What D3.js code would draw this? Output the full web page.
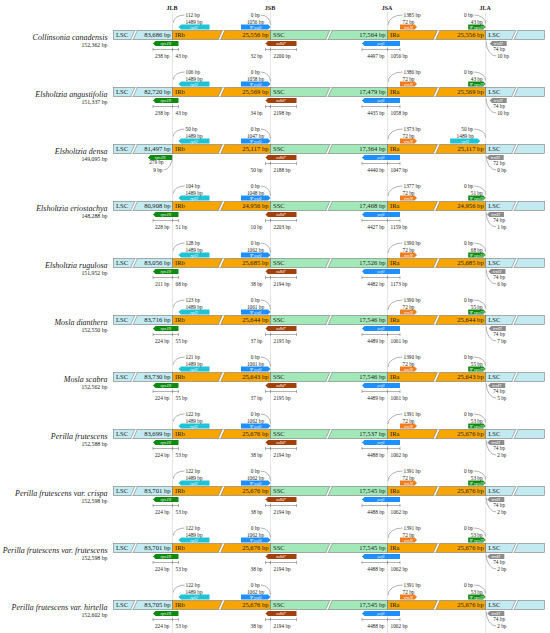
<!DOCTYPE html>
<html><head><meta charset="utf-8">
<script src="https://cdn.jsdelivr.net/npm/d3@7"></script>
<style>body{margin:0;background:#fff}svg{display:block}</style>
</head><body><svg id="c" width="550" height="633"></svg>
<script>
// ---------------- data ----------------
const species = ["Collinsonia canadensis","Elsholtzia angustifolia","Elsholtzia densa","Elsholtzia eriostachya","Elsholtzia rugulosa","Mosla dianthera","Mosla scabra","Perilla frutescens","Perilla frutescens var. crispa","Perilla frutescens var. frutescens","Perilla frutescens var. hirtella"];
const genomeSize = [152362,151337,149095,148288,151952,152550,152562,152588,152598,152598,152602];
const junctions = ["JLB","JSB","JSA","JLA"];
const lsc = [83686,82720,81497,80908,83056,83716,83730,83699,83701,83701,83705];
const irb = [25556,25569,25117,24956,25685,25644,25643,25676,25676,25676,25676];
const ssc = [17564,17479,17364,17468,17526,17546,17546,17537,17545,17545,17545];
const ira = [25556,25569,25117,24956,25685,25644,25643,25676,25676,25676,25676];
// JLB
const rpl2Gap = [112,106,50,104,128,123,121,122,122,122,122];
const rpl2Len = [1489,1489,1489,1489,1489,1489,1489,1489,1489,1489,1489];
const rps19Lsc = [238,238,279,228,211,224,224,224,224,224,224];
const rps19Ir = [43,43,null,51,68,55,55,53,53,53,53];
const rps19Gap = [null,null,9,null,null,null,null,null,null,null,null];
// JSB
const psiYcf1Gap = [0,0,0,0,0,0,0,0,0,0,0];
const psiYcf1Len = [1056,1058,1047,1048,1062,1061,1061,1062,1062,1062,1062];
const ndhFIr = [32,34,50,10,38,37,37,38,38,38,38];
const ndhFSsc = [2200,2198,2188,2203,2194,2195,2195,2194,2194,2194,2194];
// JSA
const trnNGap = [1385,1386,1373,1377,1390,1390,1390,1391,1391,1391,1391];
const trnNLen = [72,72,72,72,72,72,72,72,72,72,72];
const ycf1Ssc = [4497,4435,4440,4427,4482,4489,4489,4488,4488,4488,4488];
const ycf1Ir = [1056,1058,1047,1159,1173,1061,1061,1062,1062,1062,1062];
// JLA
const jlaGene = ["Ψ rps19","Ψ rps19","rpl2","Ψ rps19","Ψ rps19","Ψ rps19","Ψ rps19","Ψ rps19","Ψ rps19","Ψ rps19","Ψ rps19"];
const jlaGap = [0,0,50,0,0,0,0,0,0,0,0];
const jlaLen = [43,43,1489,51,68,55,55,53,53,53,53];
const trnHLen = [74,74,72,74,74,74,74,74,74,74,74];
const trnHGap = [10,10,0,1,6,7,5,2,2,2,2];

// ---------------- style / layout ----------------
const C = {lsc:"#c2eaf0", ir:"#f7a500", ssc:"#a2e8b9", border:"#7a7a7a",
  rpl2:"#1fc3d3", ycf1:"#1e8fff", rps19:"#0f8a10", ndhF:"#a1420c", trnN:"#f07c1c", trnH:"#8c8c8c",
  text:"#222", line:"#666", vline:"#d2d2d2"};
const font = "'Liberation Serif','DejaVu Serif','Times New Roman',serif";
const BH = 9;
const fmt = d3.format(",");

const svg = d3.select("#c").attr("font-family", font);
const xJ = d3.scaleLinear().domain([0,1,2,3,4,5]).range([113.5,172.5,270.5,387.5,485.7,544.3]);
const y = d3.scaleBand().domain(species).range([12.5, 12.5 + 57*species.length]);
const trnHOff = d3.scaleLinear().domain([0,10]).range([1,4]).clamp(true);

// header + junction lines
svg.selectAll("line.vj").data(junctions).join("line")
  .attr("x1",(d,k)=>xJ(k+1)).attr("x2",(d,k)=>xJ(k+1)).attr("y1",12).attr("y2",633)
  .attr("stroke",C.vline).attr("stroke-width",0.6);
svg.selectAll("text.hj").data(junctions).join("text")
  .attr("x",(d,k)=>xJ(k+1)-0.5).attr("y",10).attr("text-anchor","middle")
  .attr("font-size",6).attr("font-weight","bold").attr("fill",C.text).text(d=>d);

function arrow(g,x0,x1,yt,h,dir,fill,label){
  const p=2.5, ym=yt+h/2, yb=yt+h;
  const d = dir==="L"
    ? `M${x0},${ym}L${x0+p},${yt}L${x1},${yt}L${x1},${yb}L${x0+p},${yb}Z`
    : `M${x0},${yt}L${x1-p},${yt}L${x1},${ym}L${x1-p},${yb}L${x0},${yb}Z`;
  g.append("path").attr("d",d).attr("fill",fill);
  g.append("text").attr("x",(x0+x1)/2).attr("y",ym+1.6).attr("text-anchor","middle")
    .attr("font-size",4.6).attr("font-style","italic").attr("fill","#fff").text(label);
}
function lbl(g,x,yy,t,anchor){
  g.append("text").attr("x",x).attr("y",yy).attr("text-anchor",anchor||"middle")
    .attr("font-size",5.3).attr("fill",C.text).text(t);
}
function arc(g,d){ g.append("path").attr("d",d).attr("fill","none").attr("stroke",C.line).attr("stroke-width",0.5); }
function bracket(g,x0,xm,x1,yy){
  arc(g,`M${x0},${yy}H${x1}`);
  [x0,xm,x1].forEach(x=>arc(g,`M${x},${yy-1.6}V${yy+1.6}`));
}

const rows = svg.selectAll("g.row").data(d3.range(species.length)).join("g")
  .attr("class","row").attr("transform",i=>`translate(0,${y(species[i])+18})`);

rows.each(function(i){
  const g = d3.select(this);
  // species label
  g.append("text").attr("x",107.5).attr("y",9).attr("text-anchor","end")
    .attr("font-size",8).attr("font-style","italic").attr("fill",C.text).text(species[i]);
  g.append("text").attr("x",107.5).attr("y",16.3).attr("text-anchor","end")
    .attr("font-size",5.8).attr("fill",C.text).text(fmt(genomeSize[i])+" bp");

  // bar segments
  const segs = [
    {n:"LSC",len:lsc[i],a:0,b:1,fill:C.lsc,sx:xJ(0)+20.5},
    {n:"IRb",len:irb[i],a:1,b:2,fill:C.ir},
    {n:"SSC",len:ssc[i],a:2,b:3,fill:C.ssc},
    {n:"IRa",len:ira[i],a:3,b:4,fill:C.ir},
    {n:"LSC",len:null,a:4,b:5,fill:C.lsc}];
  segs.forEach(s=>{
    const xa=xJ(s.a), xb=xJ(s.b);
    g.append("rect").attr("x",xa).attr("y",0).attr("width",xb-xa).attr("height",BH)
      .attr("fill",s.fill).attr("stroke",C.border).attr("stroke-width",0.6);
    const sx = s.sx!==undefined ? s.sx : (xa+xb)/2;
    g.append("path").attr("d",`M${sx-3.3},${BH}L${sx-0.8},${BH}L${sx+3.3},0L${sx+0.8},0Z`).attr("fill","#fff");
    arc(g,`M${sx-3.3},${BH}L${sx+0.8},0M${sx-0.8},${BH}L${sx+3.3},0`);
    g.append("text").attr("x",xa+2.5).attr("y",6.9).attr("font-size",6.6).attr("fill",C.text).text(s.n);
    if(s.len!==null) g.append("text").attr("x",xb-2).attr("y",6.9).attr("text-anchor","end")
      .attr("font-size",6.6).attr("fill",C.text).text(fmt(s.len)+" bp");
  });

  const ya=-6, yb=BH+1.5, gh=5;
  // ---- JLB ----
  let J = xJ(1);
  arrow(g,J+6,J+37,ya,gh,"L",C.rpl2,"rpl2");
  lbl(g,J+21.5,-7,rpl2Len[i]+" bp");
  arc(g,`M${J+0.8},${-8}A11 7.5 0 0 1 ${J+12},${-15.5}`);
  lbl(g,J+13,-13.8,rpl2Gap[i]+" bp","start");
  if(rps19Ir[i]!==null){
    arrow(g,J-19.5,J+6,yb,gh,"L",C.rps19,"rps19");
    bracket(g,J-19.5,J,J+6,BH+10);
    lbl(g,J-3,BH+18.5,rps19Lsc[i]+" bp","end");
    lbl(g,J+3,BH+18.5,rps19Ir[i]+" bp","start");
  } else {
    arrow(g,J-24.5,J-0.5,yb,gh,"L",C.rps19,"rps19");
    lbl(g,J-16,BH+10.5,rps19Lsc[i]+" bp");
    arc(g,`M${J},${BH+2}A9 14 0 0 1 ${J-9},${BH+16.5}`);
    lbl(g,J-10,BH+18.3,rps19Gap[i]+" bp","end");
  }
  // ---- JSB ----
  J = xJ(2);
  arrow(g,J-29.5,J,ya,gh,"R",C.ycf1,"Ψ ycf1");
  lbl(g,J-15,-7,psiYcf1Len[i]+" bp");
  arc(g,`M${J-9.5},${-15.5}A9.5 9.5 0 0 1 ${J},${-6}`);
  lbl(g,J-10.5,-13.8,psiYcf1Gap[i]+" bp","end");
  arrow(g,J-5,J+26,yb,gh,"L",C.ndhF,"ndhF");
  bracket(g,J-5,J,J+26,BH+10);
  lbl(g,J-8,BH+18.5,ndhFIr[i]+" bp","end");
  lbl(g,J+3,BH+18.5,ndhFSsc[i]+" bp","start");
  // ---- JSA ----
  J = xJ(3);
  arrow(g,J-25.5,J+12.5,yb,gh,"L",C.ycf1,"ycf1");
  bracket(g,J-25.5,J,J+12.5,BH+10);
  lbl(g,J-3,BH+18.5,ycf1Ssc[i]+" bp","end");
  lbl(g,J+3,BH+18.5,ycf1Ir[i]+" bp","start");
  arrow(g,J+12.5,J+29.5,ya,gh,"R",C.trnN,"trnN");
  lbl(g,J+21,-7,trnNLen[i]+" bp");
  arc(g,`M${J+0.5},${-5.5}A14 10 0 0 1 ${J+15},${-15.5}`);
  lbl(g,J+16,-13.8,trnNGap[i]+" bp","start");
  // ---- JLA ----
  J = xJ(4);
  if(jlaGene[i]==="rpl2"){
    arrow(g,J-35.5,J-5.5,ya,gh,"R",C.rpl2,"rpl2");
    lbl(g,J-20.5,-7,jlaLen[i]+" bp");
  } else {
    arrow(g,J-17.5,J,ya,gh,"R",C.rps19,jlaGene[i]);
    lbl(g,J-9,-7,jlaLen[i]+" bp");
  }
  arc(g,`M${J-11.5},${-15.5}A11.5 8.5 0 0 1 ${J},${-7}`);
  lbl(g,J-12.5,-13.8,jlaGap[i]+" bp","end");
  const t0 = J + trnHOff(trnHGap[i]);
  arrow(g,t0,t0+17,yb,gh,"L",C.trnH,"trnH");
  lbl(g,J+7.5,BH+11.8,trnHLen[i]+" bp","start");
  arc(g,`M${J+0.5},${BH+2}A10 14.5 0 0 0 ${J+10.5},${BH+16.5}`);
  lbl(g,J+11.5,BH+18.5,trnHGap[i]+" bp","start");
});
</script></body></html>
